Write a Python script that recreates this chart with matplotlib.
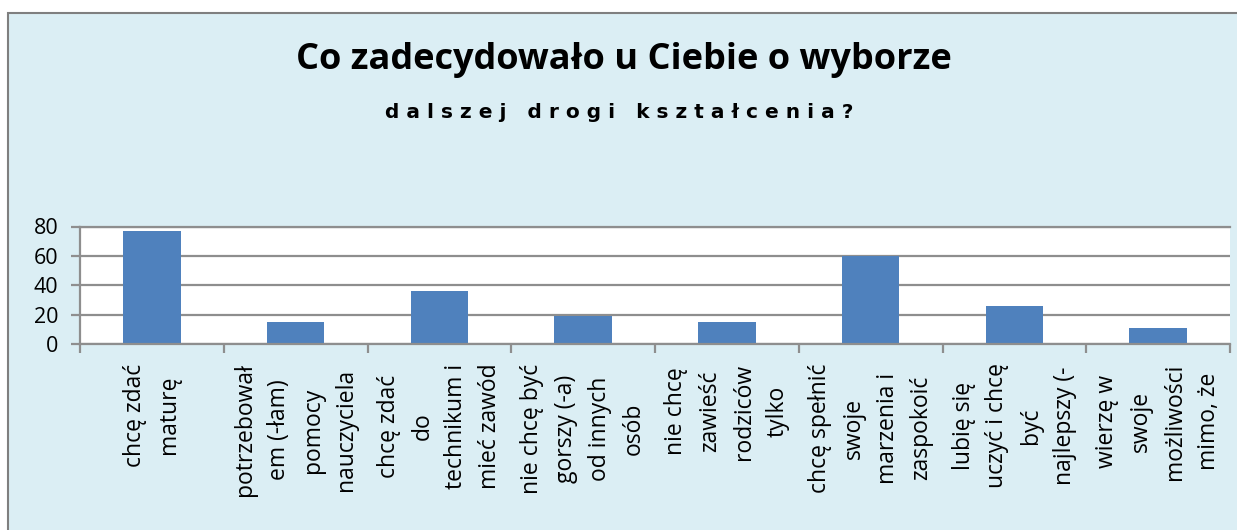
import numpy as np
from matplotlib import pyplot as plt
from matplotlib.patches import Rectangle

# data
labels = ["chcę zdać\nmaturę",
          "potrzebował\nem (-łam)\npomocy\nnauczyciela",
          "chcę zdać\ndo\ntechnikum i\nmieć zawód",
          "nie chcę być\ngorszy (-a)\nod innych\nosób",
          "nie chcę\nzawieść\nrodziców\ntylko",
          "chcę spełnić\nswoje\nmarzenia i\nzaspokoić",
          "lubię się\nuczyć i chcę\nbyć\nnajlepszy (-",
          "wierzę w\nswoje\nmożliwości\nmimo, że"]
values = [77, 15, 36, 19, 15, 60, 26, 11]
y_ticks = [0, 20, 40, 60, 80]

title = "Co zadecydowało u Ciebie o wyborze"
subtitle = "d a l s z e j   d r o g i   k s z t a ł c e n i a ?"

W, H = 1237, 530
GRID = "#8e8e8e"

fig = plt.figure(figsize=(W / 100, H / 100), dpi=100, facecolor="white")

# light blue chart panel, cut off on the right and bottom like the reference
fig.patches.append(Rectangle((8 / W, -0.1), 1.2, 1 - 13 / H + 0.1,
                             transform=fig.transFigure, facecolor="#dbeef4",
                             edgecolor="#7f7f7f", linewidth=1.5, zorder=-1))

ax = fig.add_axes([80 / W, 1 - 344 / H, 1150 / W, (344 - 226.5) / H])
ax.set_zorder(1)
ax.set_facecolor("white")

x = np.arange(len(values))
ax.bar(x, values, width=0.4, color="#4f81bd", zorder=2)

ax.set_xlim(-0.5, len(values) - 0.5)
ax.set_ylim(0, 80)
ax.set_yticks(y_ticks)
ax.yaxis.grid(True, color=GRID, linewidth=1.6)
ax.set_axisbelow(True)

for side in ["left", "bottom", "top"]:
    ax.spines[side].set_color(GRID)
    ax.spines[side].set_linewidth(1.6)
ax.spines["right"].set_visible(False)

# category boundaries as major ticks, labels on minor ticks
ax.set_xticks(np.arange(-0.5, len(values), 1))
ax.set_xticklabels([])
ax.set_xticks(x, minor=True)
ax.set_xticklabels(labels, minor=True, rotation=90, ma="center",
                   linespacing=1.55, family="Open Sans", fontsize=16.5)
ax.tick_params(axis="x", which="major", length=6.5, width=1.6, color=GRID)
ax.tick_params(axis="x", which="minor", length=0, pad=14)
ax.tick_params(axis="y", length=6.5, width=1.6, color=GRID, pad=9,
               labelsize=15.5)
for t in ax.get_yticklabels():
    t.set_family("Open Sans")

fig.text(624 / W, 1 - 69 / H, title, ha="center", va="baseline",
         family="Open Sans", fontweight="bold", fontsize=26)
fig.text(619 / W, 1 - 118 / H, subtitle, ha="center", va="baseline",
         family="DejaVu Sans", fontweight="bold", fontsize=14.5)

fig.savefig("out.png", dpi=100, facecolor="white")
